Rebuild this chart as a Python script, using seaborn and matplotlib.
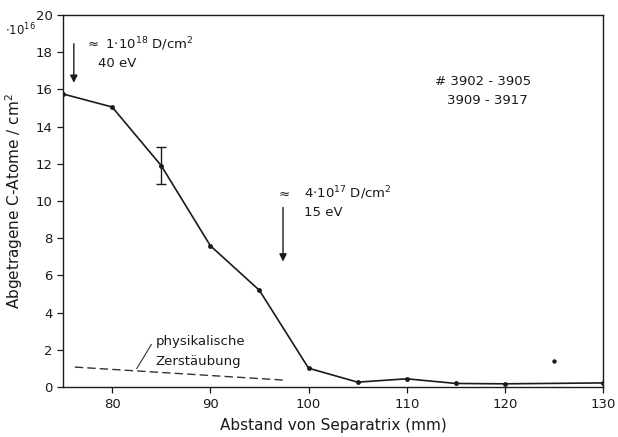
import matplotlib
matplotlib.use("Agg")
import matplotlib.pyplot as plt
import seaborn as sns
import pandas as pd

# Eroded carbon atoms vs. distance from separatrix (units of 1e16 per cm^2)
abstand = [75, 80, 85, 90, 95, 100, 105, 110, 115, 120, 130]
c_atome = [15.75, 15.05, 11.9, 7.6, 5.2, 1.02, 0.27, 0.45, 0.2, 0.18, 0.23]
fehler_x = [85]
fehler_lo = [10.9]
fehler_hi = [12.9]
einzel_x = [125]
einzel_y = [1.42]
# physical sputtering estimate (dashed)
sputter_x = [76.2, 97.5]
sputter_y = [1.08, 0.38]

x_ticks = [80, 90, 100, 110, 120, 130]
y_ticks = [0, 2, 4, 6, 8, 10, 12, 14, 16, 18, 20]

sns.set_theme(style="white")
plt.rcParams["font.family"] = ["DejaVu Sans"]

ink = "#1a1a1a"
fig = plt.figure(figsize=(6.18, 4.37), dpi=100)
ax = fig.add_axes([0.102, 0.114, 0.874, 0.852])

df = pd.DataFrame({"Abstand": abstand, "C": c_atome})
sns.lineplot(data=df, x="Abstand", y="C", ax=ax, color=ink, linewidth=1.2,
             marker="o", markersize=3.5, markeredgewidth=0, estimator=None)
sns.scatterplot(x=einzel_x, y=einzel_y, ax=ax, color=ink, s=10, linewidth=0)
ax.vlines(fehler_x, fehler_lo, fehler_hi, color=ink, linewidth=1.0)
ax.hlines(fehler_lo + fehler_hi, [x - 0.5 for x in fehler_x * 2],
          [x + 0.5 for x in fehler_x * 2], color=ink, linewidth=1.0)

ax.plot(sputter_x, sputter_y, color="#333333", linewidth=1.0, dashes=(6, 3))
ax.plot([82.5, 84.0], [0.99, 2.3], color="#333333", linewidth=0.8)
ax.text(84.4, 2.45, "physikalische", fontsize=9.5, va="center", color=ink)
ax.text(84.4, 1.36, "Zerstäubung", fontsize=9.5, va="center", color=ink)

# dose arrows
ax.annotate("", xy=(76.1, 16.2), xytext=(76.1, 18.6),
            arrowprops=dict(arrowstyle="-|>", color=ink, lw=1.0, mutation_scale=11))
ax.text(77.2, 18.4, r"$\approx$ 1$\cdot$10$^{18}$ D/cm$^2$", fontsize=9.5, va="center", color=ink)
ax.text(78.6, 17.4, "40 eV", fontsize=9.5, va="center", color=ink)

ax.annotate("", xy=(97.4, 6.6), xytext=(97.4, 9.8),
            arrowprops=dict(arrowstyle="-|>", color=ink, lw=1.0, mutation_scale=11))
ax.text(97.4, 10.4, r"$\approx$", fontsize=9.5, va="center", ha="center", color=ink)
ax.text(99.5, 10.4, r"4$\cdot$10$^{17}$ D/cm$^2$", fontsize=9.5, va="center", color=ink)
ax.text(99.5, 9.4, "15 eV", fontsize=9.5, va="center", color=ink)

ax.text(112.9, 16.4, "# 3902 - 3905", fontsize=9.5, va="center", color=ink)
ax.text(114.1, 15.4, "3909 - 3917", fontsize=9.5, va="center", color=ink)

fig.text(0.008, 0.92, r"$\cdot$10$^{16}$", fontsize=8.5, color=ink)

ax.set_xlim(75, 130)
ax.set_ylim(0, 20)
ax.set_xticks(x_ticks)
ax.set_yticks(y_ticks)
ax.tick_params(axis="both", direction="out", length=4, width=0.9, color=ink,
               labelsize=9.5, labelcolor=ink, left=True, bottom=True)
ax.set_xlabel("Abstand von Separatrix (mm)", fontsize=11, color=ink, labelpad=5)
ax.set_ylabel("Abgetragene C-Atome / cm$^2$", fontsize=11, color=ink, labelpad=8)
for s in ax.spines.values():
    s.set_color(ink)
    s.set_linewidth(1.0)
ax.grid(False)

fig.savefig("out.png", dpi=100)
